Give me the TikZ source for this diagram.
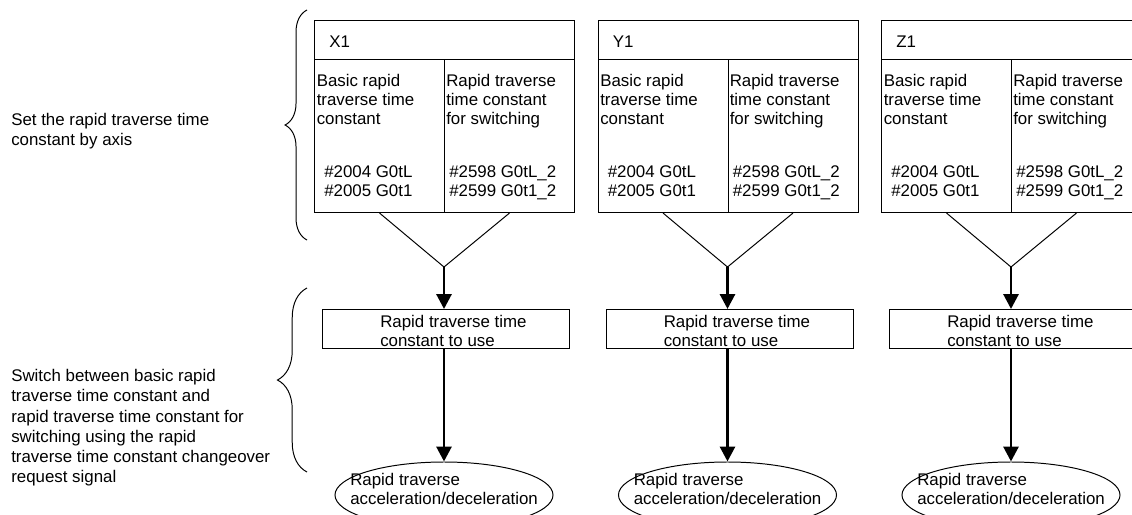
\documentclass[tikz,border=0pt]{standalone}
\usepackage{fontspec}
\setmainfont{Liberation Sans}
\usetikzlibrary{arrows.meta,shapes.geometric,decorations.pathreplacing}
\begin{document}
\begin{tikzpicture}[
    x=0.025cm, y=-0.025cm,
    box/.style={draw=black, line width=0.7pt, inner sep=0pt, anchor=north west},
    head/.style={box, minimum width=6.5cm, minimum height=0.975cm},
    col/.style={box, minimum width=3.25cm, minimum height=3.825cm},
    usebox/.style={box, minimum width=6.175cm, minimum height=0.975cm},
    accel/.style={ellipse, draw=black, line width=0.7pt, inner sep=0pt,
                  minimum width=5.45cm, minimum height=1.65cm},
    txt/.style={font=\fontsize{12}{13.6}\selectfont, align=left,
                inner sep=0pt, anchor=north west},
    note/.style={txt, font=\fontsize{12}{14.4}\selectfont},
    vline/.style={line width=0.7pt},
    flow/.style={line width=2.1pt, -{Triangle[width=10.5pt, length=10.5pt]}},
    brc/.style={line width=0.7pt, decorate, decoration={brace, amplitude=#1}},
]
\useasboundingbox (0, 0) rectangle (1132, 514);
\clip (0, 0) rectangle (1132, 514);

% Notes on the left, with their braces
\node[note] (n1) at (11, 113) {Set the rapid traverse time\\constant by axis};
\node[note] (n2) at (11, 369) {Switch between basic rapid\\traverse time constant and\\rapid traverse time constant for\\switching using the rapid\\traverse time constant changeover\\request signal};
\draw[brc=15.6pt] (307, 240) -- (307, 10);
\draw[brc=21pt] (307, 472) -- (307, 288);

% X1 axis
\node[head] (hx) at (314, 20) {};
\node[col] (lx) at (314, 59) {};
\node[col] (rx) at (444, 59) {};
\node[txt, anchor=base west] (tx) at (329, 47) {X1};
\node[txt] (bx) at (316.5, 74) {Basic rapid\\traverse time\\constant};
\node[txt] (sx) at (446, 74) {Rapid traverse\\time constant\\for switching};
\node[txt] (px) at (324, 165) {\#2004 G0tL\\\#2005 G0t1};
\node[txt] (qx) at (449, 165) {\#2598 G0tL\_2\\\#2599 G0t1\_2};
\coordinate (ax) at (444, 267);
\node[usebox] (ux) at (322, 309) {};
\node[txt] (utx) at (380, 315) {Rapid traverse time\\constant to use};
\node[accel] (ex) at (444, 495) {};
\node[txt] (etx) at (350, 473) {Rapid traverse\\acceleration/deceleration};
\draw[vline] (lx.south) -- (ax) -- (rx.south);
\draw[flow] (ax) -- (ax |- ux.north);
\draw[flow] (ux.south -| ax) -- (ex.north);

% Y1 axis
\node[head] (hy) at (597.5, 20) {};
\node[col] (ly) at (597.5, 59) {};
\node[col] (ry) at (727.5, 59) {};
\node[txt, anchor=base west] (ty) at (612.5, 47) {Y1};
\node[txt] (by) at (600, 74) {Basic rapid\\traverse time\\constant};
\node[txt] (sy) at (729.5, 74) {Rapid traverse\\time constant\\for switching};
\node[txt] (py) at (607.5, 165) {\#2004 G0tL\\\#2005 G0t1};
\node[txt] (qy) at (732.5, 165) {\#2598 G0tL\_2\\\#2599 G0t1\_2};
\coordinate (ay) at (727.5, 267);
\node[usebox] (uy) at (605.5, 309) {};
\node[txt] (uty) at (663.5, 315) {Rapid traverse time\\constant to use};
\node[accel] (ey) at (727.5, 495) {};
\node[txt] (ety) at (633.5, 473) {Rapid traverse\\acceleration/deceleration};
\draw[vline] (ly.south) -- (ay) -- (ry.south);
\draw[flow] (ay) -- (ay |- uy.north);
\draw[flow] (uy.south -| ay) -- (ey.north);

% Z1 axis (runs off the right edge)
\node[head] (hz) at (881, 20) {};
\node[col] (lz) at (881, 59) {};
\node[col] (rz) at (1011, 59) {};
\node[txt, anchor=base west] (tz) at (896, 47) {Z1};
\node[txt] (bz) at (883.5, 74) {Basic rapid\\traverse time\\constant};
\node[txt] (sz) at (1013, 74) {Rapid traverse\\time constant\\for switching};
\node[txt] (pz) at (891, 165) {\#2004 G0tL\\\#2005 G0t1};
\node[txt] (qz) at (1016, 165) {\#2598 G0tL\_2\\\#2599 G0t1\_2};
\coordinate (az) at (1011, 267);
\node[usebox] (uz) at (889, 309) {};
\node[txt] (utz) at (947, 315) {Rapid traverse time\\constant to use};
\node[accel] (ez) at (1011, 495) {};
\node[txt] (etz) at (917, 473) {Rapid traverse\\acceleration/deceleration};
\draw[vline] (lz.south) -- (az) -- (rz.south);
\draw[flow] (az) -- (az |- uz.north);
\draw[flow] (uz.south -| az) -- (ez.north);

\end{tikzpicture}
\end{document}
